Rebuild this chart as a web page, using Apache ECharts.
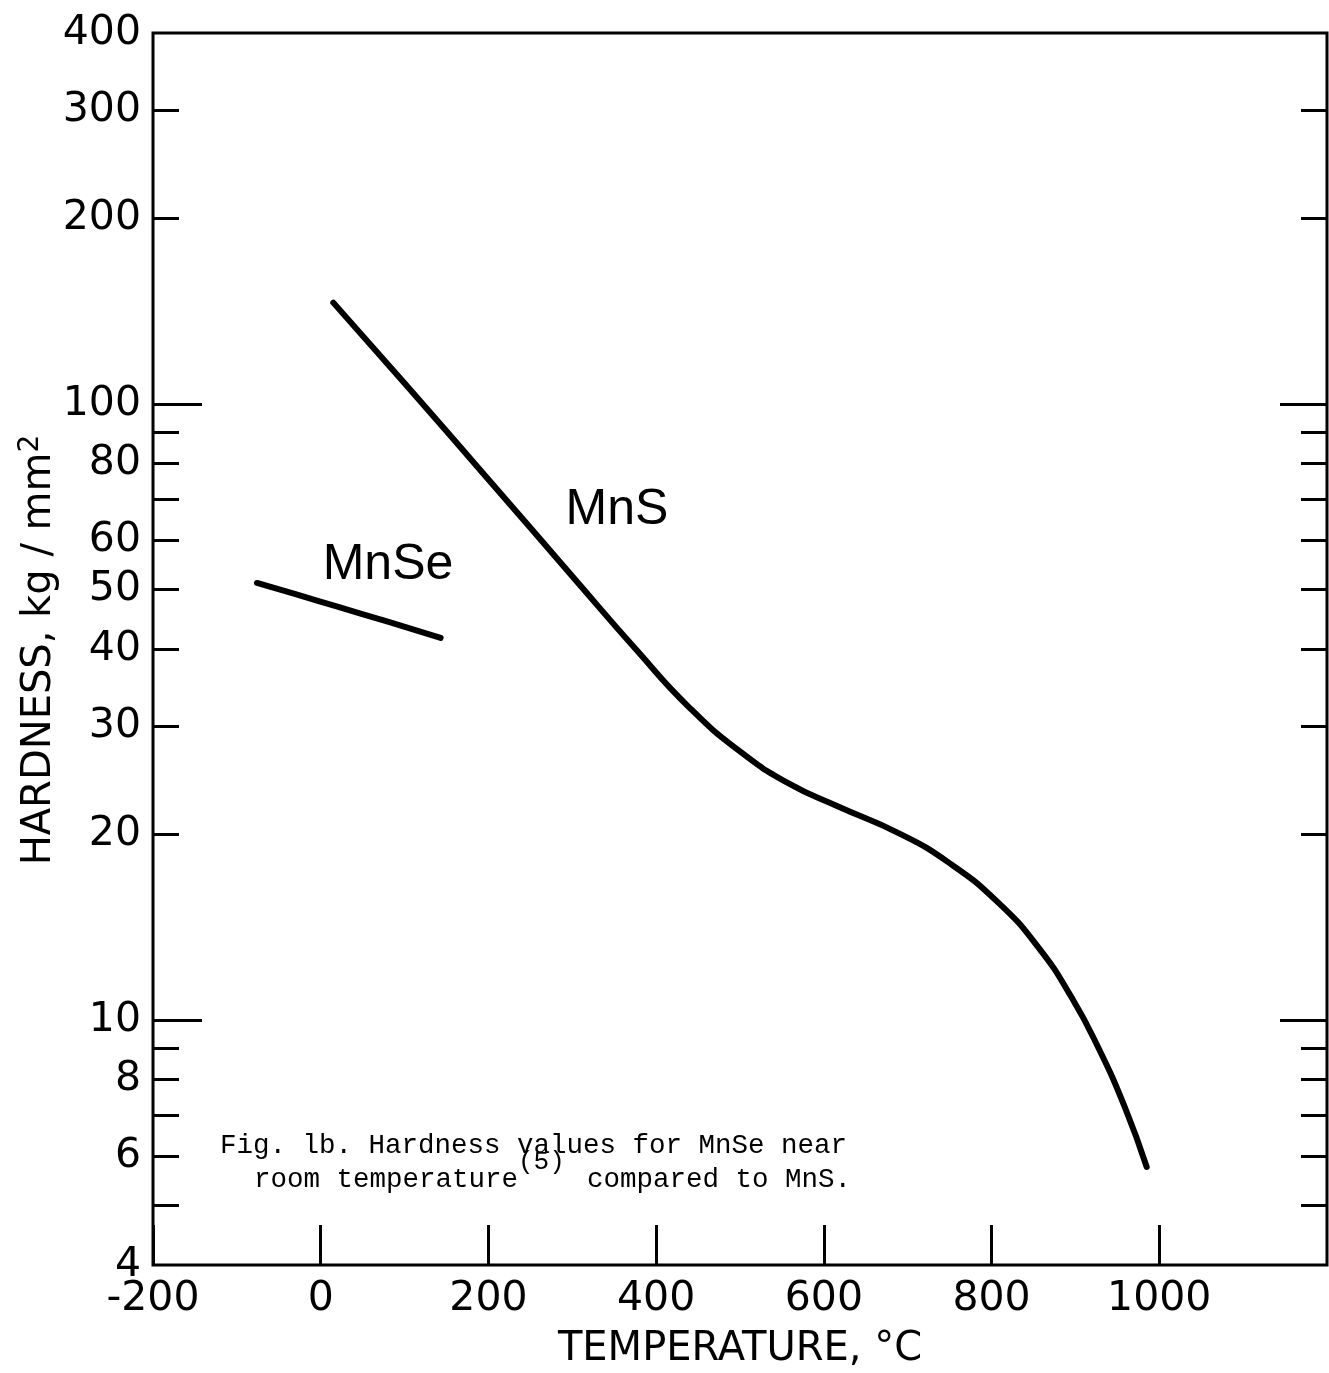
<!DOCTYPE html>
<html>
<head>
<meta charset="utf-8">
<title>Hardness MnSe vs MnS</title>
<script src="https://cdn.jsdelivr.net/npm/echarts@6/dist/echarts.min.js"></script>
<style>
  html, body { margin: 0; padding: 0; background: #fff; }
  #chart { width: 1329px; height: 1373px; }
</style>
</head>
<body>
<div id="chart"></div>
<script>
// MnS curve
const mnsTemp = [15, 100, 200, 300, 379, 439, 498, 558, 617, 689, 749, 808, 856, 895, 927, 959, 985];
const mnsHard = [146, 108, 75.4, 52.5, 39.5, 32.2, 27.4, 24.2, 22.2, 20.1, 18.0, 15.5, 13.1, 10.9, 9.03, 7.21, 5.77];

// MnSe near room temperature
const mnseTemp = [-76, -30, 21, 80, 143];
const mnseHard = [51.2, 49.1, 46.8, 44.3, 41.7];

// axis ticks
const yLabelValues = [400, 300, 200, 100, 80, 60, 50, 40, 30, 20, 10, 8, 6, 4];
const yShortTicks = [300, 200, 90, 80, 70, 60, 50, 40, 30, 20, 9, 8, 7, 6, 5];
const yLongTicks = [100, 10];

const FONT = '"DejaVu Sans", "Liberation Sans", sans-serif';
const MONO = '"Liberation Mono", "DejaVu Sans Mono", monospace';

const chart = echarts.init(document.getElementById('chart'));

const pairs = (xs, ys) => xs.map((x, i) => [x, ys[i]]);

// y axes share the same log scale; several copies just to get two tick lengths per side
const yAxisBase = (position, ticks, len, labels) => ({
  type: 'log',
  logBase: 10,
  min: 4,
  max: 400,
  position: position,
  axisLine: { show: false, onZero: false },
  splitLine: { show: false },
  minorTick: { show: false },
  axisTick: {
    show: true,
    inside: true,
    length: len,
    customValues: ticks,
    lineStyle: { color: '#000', width: 3 }
  },
  axisLabel: labels ? {
    show: true,
    customValues: yLabelValues,
    color: '#000',
    fontFamily: FONT,
    fontSize: 41,
    margin: 12
  } : { show: false }
});

chart.setOption({
  animation: false,
  backgroundColor: '#fff',
  grid: {
    left: 153,
    right: 2,
    top: 33,
    bottom: 108,
    show: true,
    borderColor: '#000',
    borderWidth: 3,
    containLabel: false
  },
  xAxis: {
    type: 'value',
    min: -200,
    max: 1200,
    interval: 200,
    axisLine: { show: false, onZero: false },
    splitLine: { show: false },
    axisTick: {
      show: true,
      inside: true,
      length: 40,
      lineStyle: { color: '#000', width: 3 }
    },
    axisLabel: {
      color: '#000',
      fontFamily: FONT,
      fontSize: 41,
      margin: 14,
      showMaxLabel: false,
      formatter: v => String(v)
    }
  },
  yAxis: [
    yAxisBase('left', yShortTicks, 26, true),
    yAxisBase('left', yLongTicks, 49, false),
    yAxisBase('right', yShortTicks, 26, false),
    yAxisBase('right', yLongTicks, 47, false)
  ],
  series: [
    {
      name: 'MnS',
      type: 'line',
      smooth: 0.5,
      showSymbol: false,
      data: pairs(mnsTemp, mnsHard),
      lineStyle: { color: '#000', width: 6, cap: 'round', join: 'round' }
    },
    {
      name: 'MnSe',
      type: 'line',
      smooth: 0.5,
      showSymbol: false,
      data: pairs(mnseTemp, mnseHard),
      lineStyle: { color: '#000', width: 6, cap: 'round', join: 'round' }
    }
  ],
  graphic: [
    {
      type: 'text',
      x: 40, y: 650,
      rotation: Math.PI / 2,
      style: {
        text: 'HARDNESS, kg / mm{sup|2}',
        fill: '#000',
        font: '40px ' + FONT,
        align: 'center',
        verticalAlign: 'middle',
        rich: {
          sup: { fontSize: 28, fontFamily: FONT, verticalAlign: 'top', padding: [0, 0, 18, 0] }
        }
      }
    },
    {
      type: 'text',
      x: 740, y: 1350,
      style: {
        text: 'TEMPERATURE, °C',
        fill: '#000',
        font: '40px ' + FONT,
        align: 'center',
        verticalAlign: 'middle'
      }
    },
    {
      type: 'text',
      x: 617, y: 510,
      style: { text: 'MnS', fill: '#000', font: '50px "Liberation Sans", sans-serif', align: 'center', verticalAlign: 'middle' }
    },
    {
      type: 'text',
      x: 388, y: 565,
      style: { text: 'MnSe', fill: '#000', font: '50px "Liberation Sans", sans-serif', align: 'center', verticalAlign: 'middle' }
    },
    {
      type: 'text',
      x: 220, y: 1146,
      style: { text: 'Fig. lb. Hardness values for MnSe near', fill: '#000', font: '27.5px ' + MONO, align: 'left', verticalAlign: 'middle' }
    },
    {
      type: 'text',
      x: 254, y: 1180,
      style: { text: 'room temperature', fill: '#000', font: '27.5px ' + MONO, align: 'left', verticalAlign: 'middle' }
    },
    {
      type: 'text',
      x: 518, y: 1162,
      style: { text: '(5)', fill: '#000', font: '26px ' + MONO, align: 'left', verticalAlign: 'middle' }
    },
    {
      type: 'text',
      x: 587, y: 1180,
      style: { text: 'compared to MnS.', fill: '#000', font: '27.5px ' + MONO, align: 'left', verticalAlign: 'middle' }
    }
  ]
});
</script>
</body>
</html>
